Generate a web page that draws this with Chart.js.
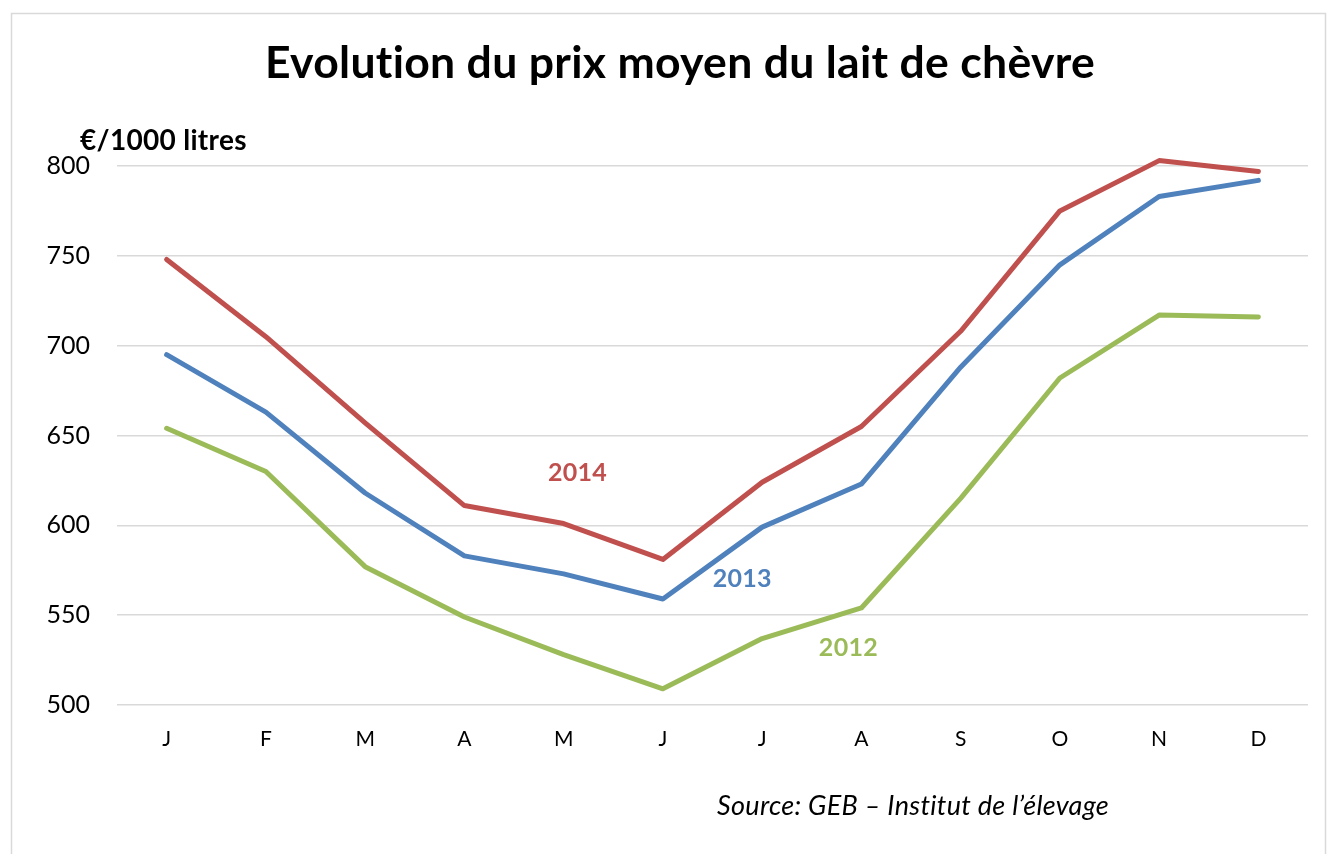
<!DOCTYPE html>
<html>
<head>
<meta charset="utf-8">
<script src="https://cdn.jsdelivr.net/npm/chart.js@4"></script>
<style>
    html, body { margin: 0; padding: 0; background: #fff; }
    #wrap { width: 1333px; height: 854px; position: relative; }
</style>
</head>
<body>
<div id="wrap"><canvas id="milkChart"></canvas></div>
<script>
const months = ["J", "F", "M", "A", "M", "J", "J", "A", "S", "O", "N", "D"];
const years = ["2014", "2013", "2012"];
const price2014 = [748, 705, 657, 611, 601, 581, 624, 655, 708, 775, 803, 797];
const price2013 = [695, 663, 618, 583, 573, 559, 599, 623, 688, 745, 783, 792];
const price2012 = [654, 630, 577, 549, 528, 509, 537, 554, 615, 682, 717, 716];
const yTicks = [500, 550, 600, 650, 700, 750, 800];

const colors = ["#c0504d", "#4f81bd", "#9bbb59"];
const font = "Lato, 'Open Sans', sans-serif";

// where the year labels sit, in data units (category index, value)
const yearLabelPos = [[4.14, 629], [5.8, 570], [6.87, 532]];

const decorations = {
    id: "decorations",
    beforeDraw(chart) {
        const ctx = chart.ctx;
        ctx.save();
        ctx.strokeStyle = "#d9d9d9";
        ctx.lineWidth = 1.5;
        ctx.beginPath();
        ctx.moveTo(11.5, 860);
        ctx.lineTo(11.5, 13.5);
        ctx.lineTo(1325.5, 13.5);
        ctx.lineTo(1325.5, 860);
        ctx.stroke();
        ctx.restore();
    },
    afterDraw(chart) {
        const ctx = chart.ctx;
        const x = chart.scales.x;
        const y = chart.scales.y;
        ctx.save();
        ctx.letterSpacing = "0.3px";
        ctx.fillStyle = "#000";
        ctx.textAlign = "center";
        ctx.textBaseline = "middle";
        ctx.font = "bold 44.5px " + font;
        ctx.fillText("Evolution du prix moyen du lait de chèvre", 680, 64);

        ctx.textAlign = "left";
        ctx.font = "bold 28px " + font;
        ctx.fillText("€/1000 litres", 80, 141);

        ctx.textAlign = "center";
        ctx.font = "italic 27px " + font;
        ctx.fillText("Source: GEB – Institut de l’élevage", 913, 806);

        ctx.font = "bold 25px " + font;
        years.forEach((yr, i) => {
            ctx.fillStyle = colors[i];
            const px = x.left + (yearLabelPos[i][0] + 0.5) * (x.width / months.length);
            ctx.fillText(yr, px, y.getPixelForValue(yearLabelPos[i][1]));
        });
        ctx.restore();
    }
};

const series = [price2014, price2013, price2012];

new Chart(document.getElementById("milkChart"), {
    type: "line",
    data: {
        labels: months,
        datasets: series.map((d, i) => ({
            label: years[i],
            data: d,
            borderColor: colors[i],
            borderWidth: 5,
            pointRadius: 0,
            tension: 0,
            clip: false,
            borderCapStyle: "round",
            borderJoinStyle: "round"
        }))
    },
    options: {
        responsive: true,
        maintainAspectRatio: false,
        animation: false,
        layout: { padding: { top: 166, left: 0, right: 25, bottom: 0 } },
        plugins: {
            legend: { display: false },
            title: { display: false },
            tooltip: { enabled: false }
        },
        scales: {
            x: {
                offset: true,
                grid: { display: false, drawTicks: false },
                border: { display: false },
                ticks: { color: "#000", font: { family: font, size: 21 }, padding: 22, maxRotation: 0, autoSkip: false },
                afterFit(scale) { scale.height = 149; }
            },
            y: {
                min: 500,
                max: 800,
                afterBuildTicks(scale) { scale.ticks = yTicks.map(v => ({ value: v })); },
                grid: { color: "#d9d9d9", lineWidth: 1.5, drawTicks: false },
                border: { display: false },
                ticks: { color: "#000", font: { family: font, size: 25 }, padding: 27 },
                afterFit(scale) { scale.width = 117; }
            }
        }
    },
    plugins: [decorations]
});
</script>
</body>
</html>
